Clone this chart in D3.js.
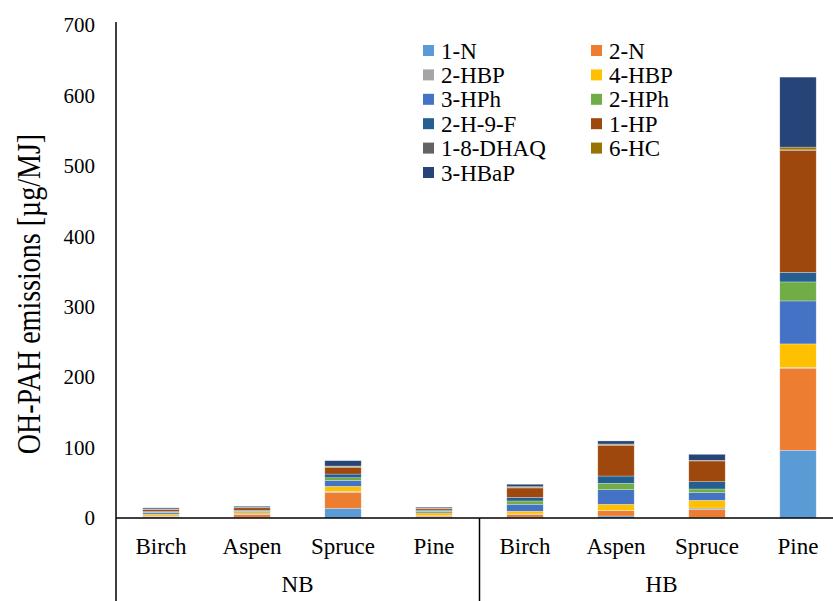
<!DOCTYPE html>
<meta charset="utf-8">
<style>
body { margin: 0; background: #fff; }
svg { display: block; font-family: "Liberation Serif", "Times New Roman", serif; }
</style>
<svg width="833" height="601"></svg>
<script src="https://d3js.org/d3.v7.min.js"></script>
<script>

// data (µg/MJ)
var groups = ["NB", "HB"];
var woods = ["Birch", "Aspen", "Spruce", "Pine"];
var compounds = ["1-N", "2-N", "2-HBP", "4-HBP", "3-HPh", "2-HPh", "2-H-9-F", "1-HP", "1-8-DHAQ", "6-HC", "3-HBaP"];
var colors = ["#5B9BD5", "#ED7D31", "#A5A5A5", "#FFC000", "#4472C4", "#70AD47", "#255E91", "#9E480E", "#636363", "#997300", "#264478"];

// one array per bar, values in compound order
var nbBirch  = [0.8, 1.5, 0.5, 2.5, 2.0, 1.0, 1.0, 3.0, 0.3, 0.3, 1.5];
var nbAspen  = [0.7, 4.5, 0.5, 2.0, 1.5, 0.8, 1.0, 3.5, 0.3, 0.3, 1.5];
var nbSpruce = [13.7, 22.7, 1.4, 7.1, 8.5, 3.8, 5.2, 9.5, 0.9, 1.0, 7.6];
var nbPine   = [1.0, 1.5, 0.8, 4.0, 2.0, 0.8, 1.2, 2.5, 0.3, 0.3, 1.2];
var hbBirch  = [1.0, 3.8, 1.0, 3.8, 9.9, 4.7, 5.2, 13.3, 0.9, 1.0, 3.3];
var hbAspen  = [2.8, 7.6, 0.5, 8.5, 20.8, 9.0, 10.4, 43.6, 0.9, 1.0, 4.3];
var hbSpruce = [0.9, 10.9, 2.4, 10.9, 10.9, 5.2, 10.4, 29.4, 0.4, 0.5, 8.5];
var hbPine   = [96.2, 116.5, 1.0, 33.5, 61.0, 27.0, 13.6, 173.0, 1.0, 3.8, 99.4];

var yTicks = [0, 100, 200, 300, 400, 500, 600, 700];

var bars = [
  {group: "NB", wood: "Birch", vals: nbBirch},
  {group: "NB", wood: "Aspen", vals: nbAspen},
  {group: "NB", wood: "Spruce", vals: nbSpruce},
  {group: "NB", wood: "Pine", vals: nbPine},
  {group: "HB", wood: "Birch", vals: hbBirch},
  {group: "HB", wood: "Aspen", vals: hbAspen},
  {group: "HB", wood: "Spruce", vals: hbSpruce},
  {group: "HB", wood: "Pine", vals: hbPine}
];
bars.forEach(function(b) {
  b.key = b.group + "-" + b.wood;
  compounds.forEach(function(c, i) { b[c] = b.vals[i]; });
});

var svg = d3.select("svg");

var x = d3.scaleBand().domain(bars.map(function(d) { return d.key; })).range([115.5, 843.5]);
var y = d3.scaleLinear().domain([0, 700]).range([518, 25]);
var color = d3.scaleOrdinal().domain(compounds).range(colors);
var barW = x.bandwidth() * 0.4;

var stacked = d3.stack().keys(compounds)(bars);

svg.append("g")
  .selectAll("g")
  .data(stacked)
  .enter().append("g")
    .attr("fill", function(d) { return color(d.key); })
  .selectAll("rect")
  .data(function(d) { return d; })
  .enter().append("rect")
    .attr("x", function(d) { return x(d.data.key) + (x.bandwidth() - barW) / 2; })
    .attr("width", barW)
    .attr("y", function(d) { return y(d[1]); })
    .attr("height", function(d) { return Math.max(0, y(d[0]) - y(d[1])); })
    .attr("stroke", "#ffffff")
    .attr("stroke-opacity", 0.45)
    .attr("stroke-width", 0.6);

// y axis labels (no ticks, just text)
svg.append("g")
  .selectAll("text")
  .data(yTicks)
  .enter().append("text")
    .attr("x", 95)
    .attr("y", function(d) { return y(d); })
    .attr("dy", "0.35em")
    .attr("text-anchor", "end")
    .attr("font-size", 21)
    .text(function(d) { return d; });

// axis lines
svg.append("line").attr("x1", 116).attr("x2", 116).attr("y1", y(700) - 3).attr("y2", 601)
  .attr("stroke", "#000").attr("stroke-width", 1.5);
svg.append("line").attr("x1", 116).attr("x2", 843.5).attr("y1", y(0)).attr("y2", y(0))
  .attr("stroke", "#000").attr("stroke-width", 1.5);
svg.append("line").attr("x1", x("HB-Birch")).attr("x2", x("HB-Birch")).attr("y1", y(0)).attr("y2", 601)
  .attr("stroke", "#000").attr("stroke-width", 1.5);

// category labels
svg.append("g")
  .selectAll("text")
  .data(bars)
  .enter().append("text")
    .attr("x", function(d) { return x(d.key) + x.bandwidth() / 2; })
    .attr("y", 554)
    .attr("text-anchor", "middle")
    .attr("font-size", 23)
    .text(function(d) { return d.wood; });

// group labels
svg.append("g")
  .selectAll("text")
  .data(groups)
  .enter().append("text")
    .attr("x", function(g) { return x(g + "-Birch") + x.bandwidth() * 2; })
    .attr("y", 592)
    .attr("text-anchor", "middle")
    .attr("font-size", 23)
    .text(function(g) { return g; });

// y title
svg.append("text")
  .attr("transform", "translate(40,294) rotate(-90) scale(0.85,1)")
  .attr("text-anchor", "middle")
  .attr("font-size", 33)
  .text("OH-PAH emissions [µg/MJ]");

// legend, two columns
var legend = svg.append("g")
  .selectAll("g")
  .data(compounds)
  .enter().append("g")
    .attr("transform", function(d, i) {
      return "translate(" + (i % 2 ? 591 : 423) + "," + (50.5 + Math.floor(i / 2) * 24.4) + ")";
    });
legend.append("rect")
  .attr("x", 0).attr("y", -5.5).attr("width", 11).attr("height", 11)
  .attr("fill", function(d) { return color(d); });
legend.append("text")
  .attr("x", 18).attr("dy", "0.35em")
  .attr("font-size", 23)
  .text(function(d) { return d; });

</script>
